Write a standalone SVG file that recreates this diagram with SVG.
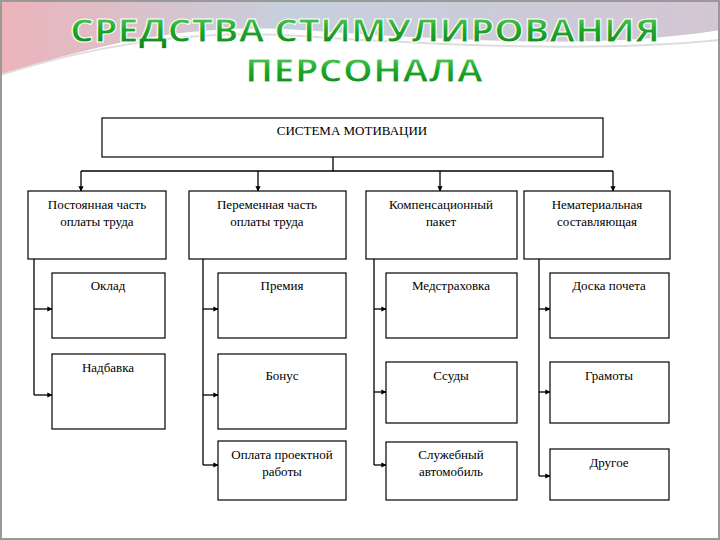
<svg xmlns="http://www.w3.org/2000/svg" width="720" height="540" viewBox="0 0 720 540">
<defs>
<linearGradient id="sw" x1="0" y1="0" x2="1" y2="0"><stop offset="0" stop-color="#e8a0a8"/><stop offset="0.4" stop-color="#b8c4d4"/><stop offset="1" stop-color="#c8b8c8"/></linearGradient>
<linearGradient id="tg" x1="0" y1="0" x2="0" y2="1"><stop offset="0" stop-color="#7be07b"/><stop offset="0.5" stop-color="#1fa82a"/><stop offset="1" stop-color="#0e7a18"/></linearGradient>
<marker id="ar" viewBox="0 0 10 10" refX="9" refY="5" markerWidth="4" markerHeight="4" orient="auto"><path d="M0,0L10,5L0,10z" fill="#000"/></marker>
<style>
.b{fill:#fff;stroke:#000;stroke-width:1.2}
.t{font-family:"Liberation Serif","Times New Roman",serif;font-size:13px;fill:#000;text-anchor:middle}
.c{fill:none;stroke:#000;stroke-width:1.3}
.a{fill:none;stroke:#000;stroke-width:1.3;marker-end:url(#ar)}
.h{font-family:"Open Sans","DejaVu Sans",sans-serif;font-weight:bold;font-size:33px;fill:url(#tg);stroke:#fff;stroke-width:1;text-anchor:middle}
</style>
</defs>
<rect width="720" height="540" fill="#fff"/>
<path d="M0,0H720V30C600,50 450,40 300,30C180,22 80,50 0,75Z" fill="url(#sw)" opacity="0.8"/>
<path d="M0,75C80,50 180,28 300,36C450,46 600,52 720,40" fill="none" stroke="#ddd" stroke-width="2"/>
<rect x="1" y="1" width="718" height="538" fill="none" stroke="#999" stroke-width="2"/>
<g id="title"><text class="h" x="365" y="42" textLength="590" lengthAdjust="spacingAndGlyphs">СРЕДСТВА СТИМУЛИРОВАНИЯ</text><text class="h" x="364" y="82" textLength="238" lengthAdjust="spacingAndGlyphs">ПЕРСОНАЛА</text></g>
<g id="connectors">
<path class="c" d="M333,157V171M81,171H613"/>
<path class="a" d="M81,171V191"/><path class="a" d="M258,171V191"/><path class="a" d="M440,171V191"/><path class="a" d="M613,171V191"/>
<path class="c" d="M34,259V395"/><path class="a" d="M34,309H52"/><path class="a" d="M34,395H52"/>
<path class="c" d="M203,259V465"/><path class="a" d="M203,309H218"/><path class="a" d="M203,395H218"/><path class="a" d="M203,465H218"/>
<path class="c" d="M374,259V465"/><path class="a" d="M374,309H386"/><path class="a" d="M374,392H386"/><path class="a" d="M374,465H386"/>
<path class="c" d="M539,259V476"/><path class="a" d="M539,309H550"/><path class="a" d="M539,392H550"/><path class="a" d="M539,476H550"/>
</g>
<g id="n0"><rect class="b" x="102" y="118" width="501" height="39"/><text class="t" x="352" y="135">СИСТЕМА МОТИВАЦИИ</text></g>
<g id="n1"><rect class="b" x="28" y="191" width="138" height="68"/><text class="t" x="97" y="209">Постоянная часть</text><text class="t" x="97" y="226">оплаты труда</text></g>
<g id="n2"><rect class="b" x="189" y="191" width="157" height="68"/><text class="t" x="267" y="209">Переменная часть</text><text class="t" x="267" y="226">оплаты труда</text></g>
<g id="n3"><rect class="b" x="366" y="191" width="151" height="68"/><text class="t" x="441" y="209">Компенсационный</text><text class="t" x="441" y="226">пакет</text></g>
<g id="n4"><rect class="b" x="524" y="191" width="146" height="68"/><text class="t" x="597" y="209">Нематериальная</text><text class="t" x="597" y="226">составляющая</text></g>
<g id="n5"><rect class="b" x="52" y="273" width="113" height="65"/><text class="t" x="108" y="290">Оклад</text></g>
<g id="n6"><rect class="b" x="52" y="354" width="113" height="75"/><text class="t" x="108" y="372">Надбавка</text></g>
<g id="n7"><rect class="b" x="218" y="273" width="128" height="65"/><text class="t" x="282" y="290">Премия</text></g>
<g id="n8"><rect class="b" x="218" y="354" width="128" height="75"/><text class="t" x="282" y="380">Бонус</text></g>
<g id="n9"><rect class="b" x="218" y="441" width="128" height="59"/><text class="t" x="282" y="459">Оплата проектной</text><text class="t" x="282" y="476">работы</text></g>
<g id="n10"><rect class="b" x="386" y="273" width="131" height="65"/><text class="t" x="451" y="290">Медстраховка</text></g>
<g id="n11"><rect class="b" x="386" y="362" width="131" height="61"/><text class="t" x="451" y="380">Ссуды</text></g>
<g id="n12"><rect class="b" x="386" y="442" width="131" height="58"/><text class="t" x="451" y="459">Служебный</text><text class="t" x="451" y="476">автомобиль</text></g>
<g id="n13"><rect class="b" x="550" y="273" width="119" height="65"/><text class="t" x="609" y="290">Доска почета</text></g>
<g id="n14"><rect class="b" x="550" y="362" width="119" height="61"/><text class="t" x="609" y="380">Грамоты</text></g>
<g id="n15"><rect class="b" x="550" y="449" width="119" height="51"/><text class="t" x="609" y="467">Другое</text></g>
</svg>
